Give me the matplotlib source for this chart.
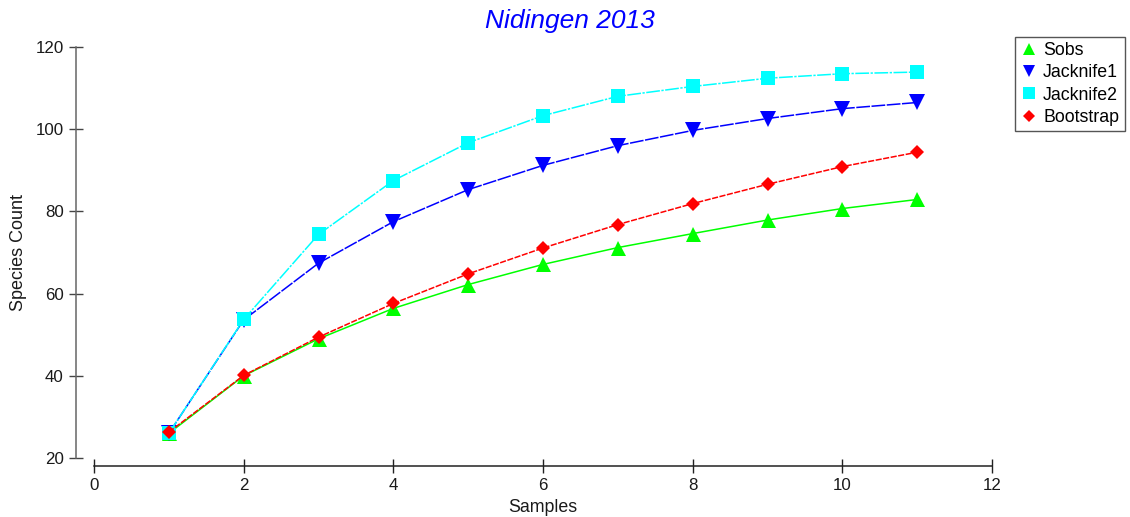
"""plot.py: species accumulation curves for Nidingen 2013, saved to out.png"""

import matplotlib
matplotlib.use('Agg')
import matplotlib.pyplot as plt

# * Data
samples = [1, 2, 3, 4, 5, 6, 7, 8, 9, 10, 11]
sobs = [26.0, 40.0, 49.0, 56.4, 62.2, 67.1, 71.2, 74.6, 77.9, 80.7, 82.9]
jacknife1 = [26.0, 53.6, 67.4, 77.5, 85.3, 91.2, 96.0, 99.7, 102.6, 105.0, 106.5]
jacknife2 = [26.0, 53.7, 74.4, 87.5, 96.7, 103.3, 108.0, 110.4, 112.4, 113.5, 113.9]
bootstrap = [26.3, 40.1, 49.4, 57.6, 64.8, 71.1, 76.8, 81.9, 86.6, 90.9, 94.4]

x_ticks = [0, 2, 4, 6, 8, 10, 12]
y_ticks = [20, 40, 60, 80, 100, 120]

def main():
	plt.rcParams['font.family'] = ['Liberation Sans', 'DejaVu Sans']

	fig = plt.figure(figsize=(11.3, 5.17), dpi=100)
	ax = fig.add_axes([0.0832, 0.1141, 0.7947, 0.795])

	# series: (values, label, colour, marker, markersize, linestyle)
	series = [
		(sobs, 'Sobs', '#00ff00', '^', 10.8, '-'),
		(jacknife1, 'Jacknife1', '#0000ff', 'v', 11, (0, (9, 1))),
		(jacknife2, 'Jacknife2', '#00ffff', 's', 9.5, (0, (9, 1, 1.5, 1))),
		(bootstrap, 'Bootstrap', '#ff0000', 'D', 7.6, (0, (4, 1))),
	]
	for values, label, color, marker, ms, ls in series:
		ax.plot(samples, values, color=color, marker=marker, markersize=ms,
				linestyle=ls, linewidth=1.1, markeredgewidth=0, label=label)

	ax.set_xlim(0, 12)
	ax.set_ylim(20, 120)
	ax.set_xticks(x_ticks)
	ax.set_yticks(y_ticks)

	# Detached axes like the original program draws them (offsets in points)
	ax.spines['top'].set_visible(False)
	ax.spines['right'].set_visible(False)
	ax.spines['left'].set_position(('outward', 13))
	ax.spines['bottom'].set_position(('outward', 5.8))
	ax.spines['left'].set_color('#666666')
	ax.spines['bottom'].set_color('#222222')
	ax.spines['left'].set_linewidth(1.1)
	ax.spines['bottom'].set_linewidth(1.1)

	ax.tick_params(axis='y', direction='inout', length=10.5, width=1.0,
				   color='#444444', pad=3.6, labelsize=12.2, labelcolor='#1a1a1a')
	ax.tick_params(axis='x', direction='inout', length=10, width=1.0,
				   color='#222222', pad=3.6, labelsize=12.2, labelcolor='#1a1a1a')

	ax.set_xlabel('Samples', fontsize=12.8, color='#1a1a1a', labelpad=4)
	ax.set_ylabel('Species Count', fontsize=13, color='#1a1a1a', labelpad=6)

	fig.text(0.504, 0.959, 'Nidingen 2013', fontsize=19, style='italic',
			 color='#0000ff', ha='center', va='center')

	# Legend shows markers only
	leg = fig.legend(loc='upper left', bbox_to_anchor=(0.898, 0.929),
					 handlelength=1.0, handletextpad=0.3, labelspacing=0.3,
					 borderpad=0.3, borderaxespad=0, fontsize=12.8, markerscale=0.85,
					 fancybox=False, framealpha=1, edgecolor='#555555')
	leg.get_frame().set_linewidth(1.0)
	for handle in leg.legend_handles:
		handle.set_linestyle('')

	fig.savefig('out.png', dpi=100)

if __name__ == "__main__":
	main()
